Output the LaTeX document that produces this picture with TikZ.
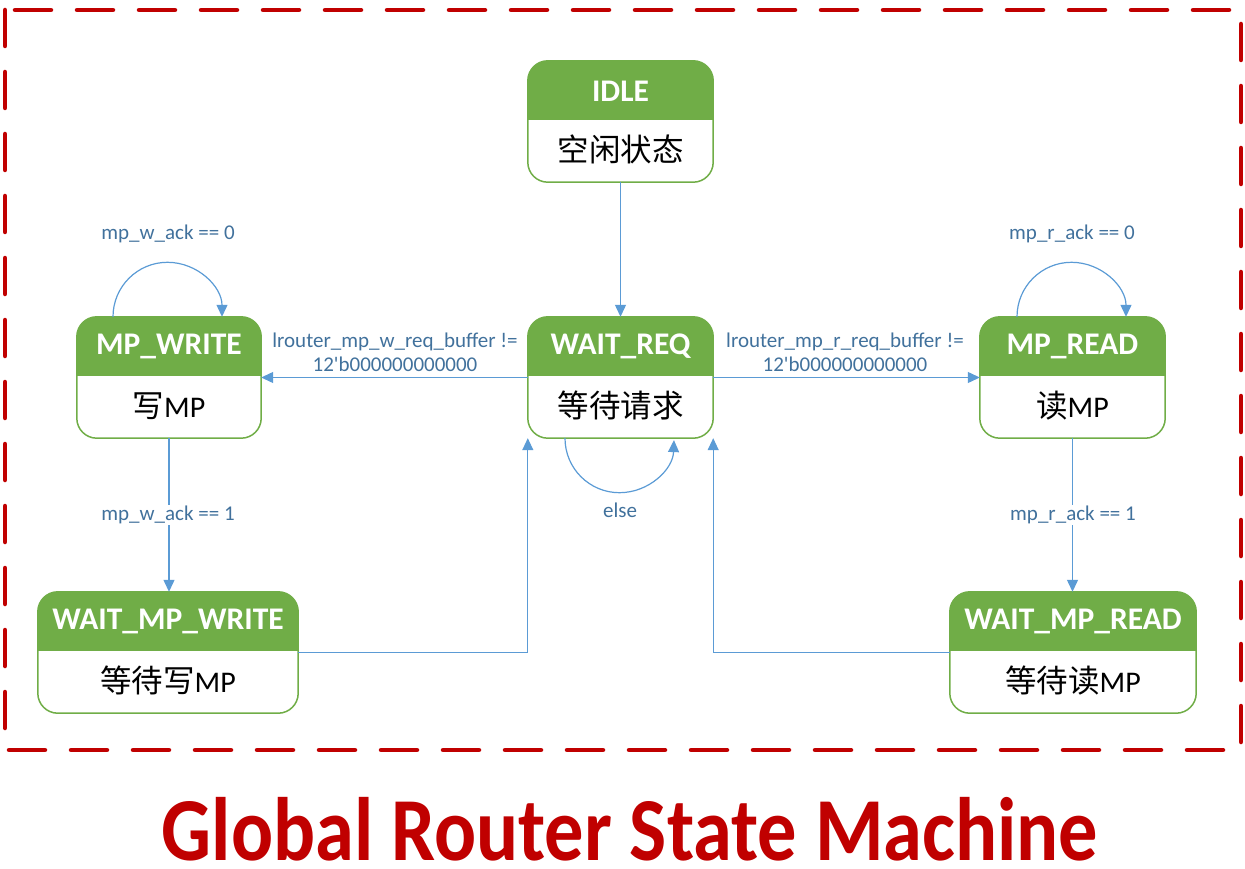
\documentclass[tikz,border=0pt]{standalone}
\usepackage{fontspec}
\setmainfont{Carlito}
\newfontfamily\straightq{Carlito}
\newfontfamily\cjk[Scale=1.05]{Noto Sans CJK SC}
\usetikzlibrary{arrows.meta}
\definecolor{stgreen}{HTML}{70AD47}
\definecolor{arrblue}{HTML}{5B9BD5}
\definecolor{lblblue}{HTML}{41719C}
\definecolor{titlered}{HTML}{C00000}
\tikzset{
  stnode/.style={rectangle, inner sep=0pt, minimum height=121pt},
  sttitle/.style={text=white, font=\fontsize{31.5}{34}\selectfont\bfseries, inner sep=0pt},
  stsub/.style={text=black, font=\fontsize{30}{34}\selectfont, inner sep=0pt},
  arr/.style={draw=arrblue, line width=1.2pt, -{Triangle[length=12pt,width=11pt]}},
  lbl/.style={text=lblblue, font=\fontsize{21}{24}\selectfont, inner sep=1pt, align=center},
}
\newcommand\mkstate[6]{%
  \node[stnode, minimum width=#4pt] (#1) at (#2, #3+60.5) {};
  \begin{scope}
    \clip[rounded corners=20pt] (#1.north west) rectangle (#1.south east);
    \fill[stgreen] (#1.north west) rectangle ([yshift=-59pt]#1.north east);
  \end{scope}
  \draw[stgreen, rounded corners=20pt, line width=1.5pt] (#1.north west) rectangle (#1.south east);
  \node[sttitle] at ([yshift=-30pt]#1.north) {#5};
  \node[stsub] at ([yshift=-89pt]#1.north) {#6};
}
\begin{document}
\begin{tikzpicture}[x=1pt,y=-1pt]
\useasboundingbox (0,0) rectangle (1245,869);
\draw[titlered, line width=4.5pt, line cap=round, dash pattern=on 36pt off 26pt] (5,10) rectangle (1241,750);

\mkstate{idle}{620.5}{61}{185}{IDLE}{{\cjk 空闲状态}}
\mkstate{waitreq}{620.5}{317}{185}{WAIT\_REQ}{{\cjk 等待请求}}
\mkstate{mpwrite}{169}{317}{184}{MP\_WRITE}{{\cjk 写}MP}
\mkstate{mpread}{1072.5}{317}{185}{MP\_READ}{{\cjk 读}MP}
\mkstate{waitmpw}{168}{592}{260}{WAIT\_MP\_WRITE}{{\cjk 等待写}MP}
\mkstate{waitmpr}{1073}{592}{246}{WAIT\_MP\_READ}{{\cjk 等待读}MP}

\draw[arr] (idle) -- (waitreq);
\draw[arr] (waitreq.west) -- (mpwrite.east);
\draw[arr] (waitreq.east) -- (mpread.east -| mpread.west);
\draw[arr] ([xshift=-56pt]mpwrite.north) arc[start angle=180, end angle=0, radius=54.5pt];
\draw[arr] ([xshift=-55.5pt]mpread.north) arc[start angle=180, end angle=0, radius=54.5pt];
\draw[arr] ([xshift=-55.5pt]waitreq.south) arc[start angle=180, end angle=358, radius=54.5pt];
\draw[arr] (mpwrite.south) -- (waitmpw.north -| mpwrite.south);
\draw[arr] (mpread.south) -- (waitmpr.north -| mpread.south);
\draw[arr] (waitmpw.east) -| (waitreq.south west);
\draw[arr] (waitmpr.west) -| (waitreq.south east);

\node[lbl] (l1) at (168,234) {mp\_w\_ack == 0};
\node[lbl] (l2) at (1072,234) {mp\_r\_ack == 0};
\node[lbl] (l3) at (620,510) {else};
\node[lbl, fill=white] (l4) at (168,515) {mp\_w\_ack == 1};
\node[lbl, fill=white] (l5) at (1073,515) {mp\_r\_ack == 1};
\node[lbl] (l6) at (395,352) {lrouter\_mp\_w\_req\_buffer !=\\12{\straightq '}b000000000000};
\node[lbl] (l7) at (845,352) {lrouter\_mp\_r\_req\_buffer !=\\12{\straightq '}b000000000000};

\node[text=titlered, font=\fontsize{90}{96}\selectfont\bfseries, anchor=base, inner sep=0pt, xscale=0.872] (title) at (630,860) {Global Router State Machine};
\end{tikzpicture}
\end{document}
